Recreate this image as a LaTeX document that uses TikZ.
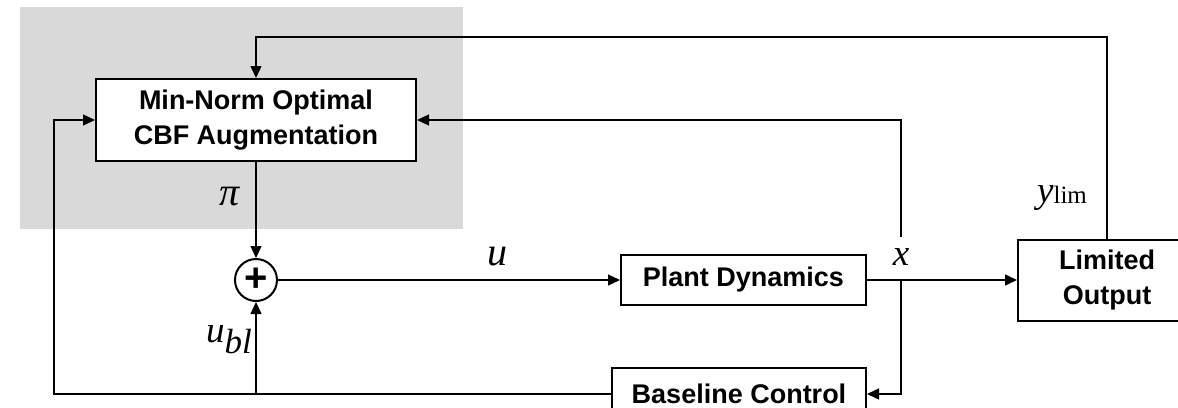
\documentclass[tikz,border=0pt]{standalone}
\usepackage{fontspec}
\setmainfont{Liberation Serif}
\setsansfont{Liberation Sans}
\usetikzlibrary{positioning,arrows.meta,calc}
\tikzset{
  blk/.style={rectangle, draw=black, line width=2pt, fill=white, align=center,
              minimum height=50pt, inner sep=4pt,
              font=\sffamily\bfseries\fontsize{27}{35}\selectfont},
  sumnode/.style={circle, draw=black, line width=2pt, fill=white, minimum size=42pt,
                  inner sep=0pt, font=\sffamily\bfseries\fontsize{40}{40}\selectfont},
  lbl/.style={inner sep=0pt, font=\fontsize{37}{37}\selectfont\itshape},
  biglbl/.style={lbl, font=\fontsize{40}{40}\selectfont\itshape},
  flowarr/.style={-{Triangle[length=12pt,width=11pt]}, line width=1.4pt},
}

\begin{document}
\begin{tikzpicture}[x=1pt, y=-1pt]
\useasboundingbox (0,0) rectangle (1178,407);
\fill[black!15] (20,7) rectangle (463,229);
\node[blk, minimum width=320pt, minimum height=82pt] (mn) at (256,120) {Min-Norm Optimal\\ CBF Augmentation};
\node[sumnode, below=96pt of mn] (sum) {+};
\node[blk, minimum width=245pt, right=342pt of sum] (plant) {Plant Dynamics};
\node[blk, minimum width=178pt, minimum height=81pt, right=150pt of plant] (lim) {Limited\\ Output};
\node[blk, minimum width=254pt, minimum height=52pt, below=61pt of plant.south east, anchor=north east] (base) {Baseline Control};
% signal labels
\node[biglbl] (pi) at (230,197) {π};
\node[biglbl] (ulab) at (497,257) {u};
\node[lbl, inner ysep=11pt] (xlab) at (901,257) {x};
\node[lbl] (ubl) at (229,340) {u\raisebox{-11pt}{\fontsize{35}{35}\selectfont bl}};
\node[lbl] (ylim) at (1062,198) {y\raisebox{-1pt}{\upshape\fontsize{25}{25}\selectfont lim}};
\coordinate (xj) at (xlab |- plant.east);
% connectors
\draw[flowarr] (mn.south) -- (sum.north);
\draw[flowarr] (sum.east) -- (plant.west);
\draw[flowarr] (plant.east) -- (lim.west);
\draw[flowarr] (xlab.north) |- (mn.east);
\draw[flowarr] (xj) |- (base.east);
\draw[flowarr] (lim.north) |- ($(mn.north)+(0,-41)$) -- (mn.north);
\draw[flowarr] (base.west) -| ($(mn.west)+(-41,0)$) -- (mn.west);
\draw[flowarr] (sum |- base.west) -- (sum.south);
\end{tikzpicture}
\end{document}
